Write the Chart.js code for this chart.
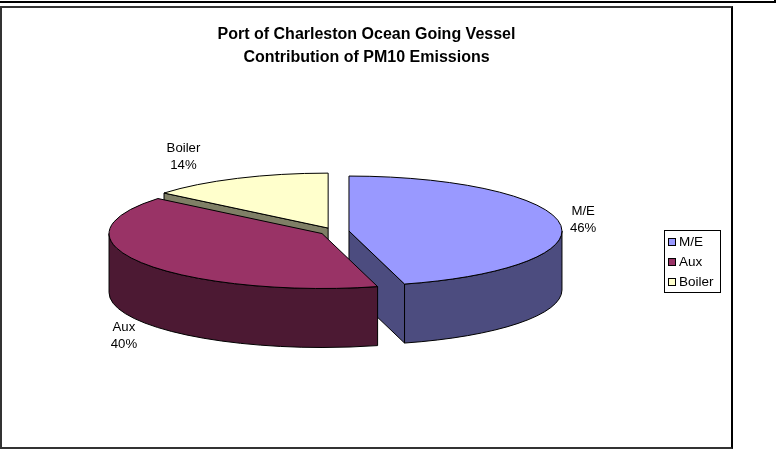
<!DOCTYPE html>
<html>
<head>
<meta charset="utf-8">
<title>PM10 Emissions</title>
<script src="https://cdn.jsdelivr.net/npm/chart.js@4/dist/chart.umd.min.js"></script>
<style>
    html, body { margin: 0; padding: 0; background: #fff; }
    #page { position: relative; width: 781px; height: 449px; overflow: hidden; }
    #topBar { position: absolute; left: -4px; top: -4px; width: 778px; height: 5px; border: 1px solid #000; border-width: 0 2px 2px 0; }
    #frame { position: absolute; left: 0; top: 6px; width: 729px; height: 439px; border-style: solid; border-width: 2px 2px 2px 2px; border-color: #333 #000 #333 #333; }
    #chartWrap { position: absolute; left: 0; top: 0; width: 729px; height: 439px; }
    #legend { position: absolute; left: 664px; top: 230px; width: 55px; height: 61px; border: 1px solid #000; font: 13.5px "Liberation Sans", Arial, sans-serif; color: #000; }
    .legend-row { position: absolute; left: 3px; height: 20px; line-height: 20px; white-space: nowrap; }
    .legend-swatch { position: absolute; left: 0; top: 6px; width: 6px; height: 6px; border: 1px solid #000; }
    .legend-text { position: absolute; left: 11px; top: 0; }
</style>
</head>
<body>
<div id="page">
    <div id="topBar"></div>
    <div id="frame"><div id="chartWrap"><canvas id="pieChart"></canvas></div></div>
    <div id="legend"></div>
</div>
<script>
// Dades del gràfic (les etiquetes arrodoneixen a 46, 40 i 14 %)
const categories = ['M/E', 'Aux', 'Boiler'];
const shares = [45.8, 40.2, 14];
const titleLines = ['Port of Charleston Ocean Going Vessel', 'Contribution of PM10 Emissions'];
const topColors = ['#9999FF', '#993366', '#FFFFCC'];
const sideColors = ['#4C4C7F', '#4C1933', '#7F7F66'];

// Geometria del pastís 3D (coordenades del canvas, que comença a 2,8 de la pàgina)
const PIE_RADIUS = 213;
const TILT = 0.258;
const DEPTH = 59;
const EXPLODE = 14.7;
const PIE_CENTRE = { x: 332.4, y: 223.5 };
const DRAW_ORDER = [2, 0, 1];
const LABEL_NUDGE = [[23, -4], [-19, 73], [-54, -21]];

function explodedCentre(arc) {
    const half = (arc.startAngle + arc.endAngle) / 2;
    return {
        x: PIE_CENTRE.x + Math.cos(half) * EXPLODE,
        y: PIE_CENTRE.y + Math.sin(half) * EXPLODE * TILT
    };
}

// Arc.draw de Chart.js dins d'una transformació aixafada
function drawTop(ctx, arc) {
    const c = explodedCentre(arc);
    ctx.save();
    ctx.translate(c.x, c.y);
    ctx.scale(1, TILT);
    ctx.translate(-arc.x, -arc.y);
    arc.draw(ctx);
    ctx.restore();

    ctx.beginPath();
    ctx.moveTo(c.x, c.y);
    ctx.ellipse(c.x, c.y, PIE_RADIUS, PIE_RADIUS * TILT, 0, arc.startAngle, arc.endAngle);
    ctx.closePath();
    ctx.stroke();
}

function rimPoint(arc, angle) {
    const c = explodedCentre(arc);
    return {
        x: c.x + Math.cos(angle) * PIE_RADIUS,
        y: c.y + Math.sin(angle) * PIE_RADIUS * TILT
    };
}

// Cara plana que baixa des del centre fins a la vora
function drawRadialFace(ctx, arc, angle) {
    const c = explodedCentre(arc);
    const rim = rimPoint(arc, angle);
    ctx.beginPath();
    ctx.moveTo(c.x, c.y);
    ctx.lineTo(rim.x, rim.y);
    ctx.lineTo(rim.x, rim.y + DEPTH);
    ctx.lineTo(c.x, c.y + DEPTH);
    ctx.closePath();
    ctx.fill();
    ctx.stroke();
}

function drawWalls(ctx, arc, color) {
    const c = explodedCentre(arc);
    const a0 = arc.startAngle;
    const a1 = arc.endAngle;
    ctx.fillStyle = color;

    if (Math.cos(a0) < -1e-6) drawRadialFace(ctx, arc, a0);
    if (Math.cos(a1) > 1e-6) drawRadialFace(ctx, arc, a1);

    // Paret exterior: només la meitat de davant
    const from = Math.max(a0, 0);
    const to = Math.min(a1, Math.PI);
    if (to > from) {
        ctx.beginPath();
        ctx.ellipse(c.x, c.y, PIE_RADIUS, PIE_RADIUS * TILT, 0, from, to);
        ctx.ellipse(c.x, c.y + DEPTH, PIE_RADIUS, PIE_RADIUS * TILT, 0, to, from, true);
        ctx.closePath();
        ctx.fill();
        ctx.stroke();
    }
}

const pie3d = {
    id: 'pie3d',
    beforeDatasetsDraw(chart) {
        const ctx = chart.ctx;
        const arcs = chart.getDatasetMeta(0).data;
        ctx.save();
        ctx.lineWidth = 1;
        ctx.strokeStyle = '#000';
        ctx.lineJoin = 'round';
        DRAW_ORDER.forEach(i => {
            drawWalls(ctx, arcs[i], sideColors[i]);
            drawTop(ctx, arcs[i]);
        });

        // Etiquetes de cada sector
        ctx.fillStyle = '#000';
        ctx.font = '13.2px "Liberation Sans", Arial, sans-serif';
        ctx.textAlign = 'center';
        ctx.textBaseline = 'middle';
        arcs.forEach((arc, i) => {
            const half = (arc.startAngle + arc.endAngle) / 2;
            const rim = rimPoint(arc, half);
            const x = rim.x + LABEL_NUDGE[i][0];
            const y = rim.y + LABEL_NUDGE[i][1];
            ctx.fillText(categories[i], x, y - 8.5);
            ctx.fillText(Math.round(shares[i]) + '%', x, y + 8.5);
        });
        ctx.restore();
        return false;
    }
};

new Chart(document.getElementById('pieChart'), {
    type: 'pie',
    plugins: [pie3d],
    data: {
        labels: categories,
        datasets: [{
            data: shares,
            backgroundColor: topColors,
            borderWidth: 0,
            offset: 0
        }]
    },
    options: {
        responsive: true,
        maintainAspectRatio: false,
        animation: false,
        radius: PIE_RADIUS,
        plugins: {
            legend: { display: false },
            tooltip: { enabled: false },
            title: {
                display: true,
                text: titleLines,
                color: '#000',
                font: { family: '"Liberation Sans", Arial, sans-serif', size: 16, weight: 'bold', lineHeight: 1.44 },
                padding: { top: 15, bottom: 0 }
            }
        }
    }
});

// Llegenda HTML
const legendBox = document.getElementById('legend');
categories.forEach((name, i) => {
    const row = document.createElement('div');
    row.className = 'legend-row';
    row.style.top = (i * 20 + 0.5) + 'px';
    const swatch = document.createElement('span');
    swatch.className = 'legend-swatch';
    swatch.style.background = topColors[i];
    const text = document.createElement('span');
    text.className = 'legend-text';
    text.textContent = name;
    row.append(swatch, text);
    legendBox.appendChild(row);
});
</script>
</body>
</html>
